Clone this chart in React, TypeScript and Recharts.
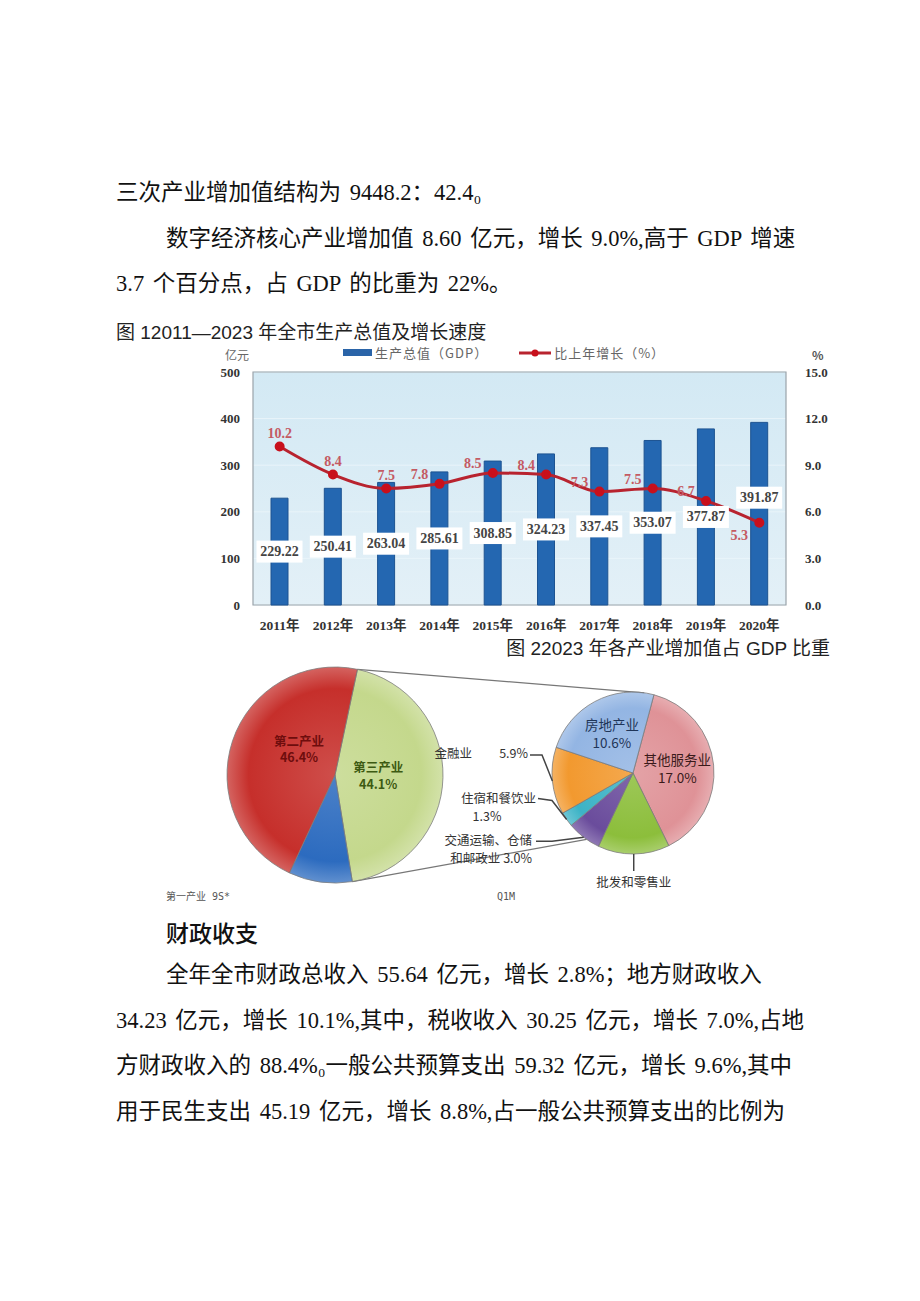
import React from 'react'
import {
  ComposedChart,
  Bar,
  Line,
  XAxis,
  YAxis,
  CartesianGrid,
  LabelList,
  ReferenceArea,
  PieChart,
  Pie,
  Cell,
  Customized
} from 'recharts'

// 图1 数据
const years = ['2011年', '2012年', '2013年', '2014年', '2015年', '2016年', '2017年', '2018年', '2019年', '2020年']
const gdpValues = [229.22, 250.41, 263.04, 285.61, 308.85, 324.23, 337.45, 353.07, 377.87, 391.87]
const growthRates = [10.2, 8.4, 7.5, 7.8, 8.5, 8.4, 7.3, 7.5, 6.7, 5.3]
const gdpTicks = [0, 100, 200, 300, 400, 500]
const rateTicks = [0, 3, 6, 9, 12, 15]

// 图2 数据
const industryNames = ['第三产业', '第一产业', '第二产业']
const industryShares = [44.1, 9.5, 46.4]
const serviceNames = ['其他服务业', '批发和零售业', '交通运输、仓储和邮政业', '住宿和餐饮业', '金融业', '房地产业']
const serviceShares = [17.0, 6.3, 3.0, 1.3, 5.9, 10.6]

const industryColors = ['#c4d88c', '#2c6bbf', '#c62f2b']
const serviceColors = ['#df9297', '#8cbe3b', '#6a4c9c', '#3cb3c6', '#f2992f', '#93b5e3']

const SERIF = "'Liberation Serif', 'Noto Sans CJK SC', serif"
const SANS = "'Liberation Sans', 'Noto Sans CJK SC', sans-serif"
const CJK = "'Noto Sans CJK SC', sans-serif"

const barData = years.map((y, i) => ({ year: y, gdp: gdpValues[i], rate: growthRates[i] }))
const industryData = industryNames.map((n, i) => ({ name: n, value: industryShares[i] }))
const serviceData = serviceNames.map((n, i) => ({ name: n, value: serviceShares[i] }))

// 饼图几何
const MAIN = { cx: 125, cy: 115, r: 108, start: 78 }
const SUB = { cx: 423, cy: 113, r: 81, start: 75 }
const RAD = Math.PI / 180

function Txt({ x, y, size, lh, children, style }: any) {
  return (
    <div
      style={{
        position: 'absolute',
        left: x,
        top: y - lh / 2,
        fontSize: size,
        lineHeight: lh + 'px',
        whiteSpace: 'nowrap',
        color: '#111',
        fontFamily: SERIF,
        wordSpacing: 3,
        ...style
      }}
    >
      {children}
    </div>
  )
}

function BarValueLabel(props: any) {
  const { x, y, width, height, value, index } = props
  const cx = x + width / 2
  // 最后一根柱子的标签上移，避开折线
  const cy = y + height / 2 - (index === gdpValues.length - 1 ? 16 : 0)
  return (
    <g>
      <rect x={cx - 23} y={cy - 11} width={46} height={22} fill='#fff' />
      <text
        x={cx}
        y={cy}
        textAnchor='middle'
        dominantBaseline='central'
        fontSize={14}
        fontWeight={700}
        fill='#444'
        fontFamily={SERIF}
      >
        {Number(value).toFixed(2)}
      </text>
    </g>
  )
}

function RateLabel(props: any) {
  const { x, y, value, index } = props
  let dx = -20
  let dy = -9
  if (index < 3) {
    dx = 0
    dy = -13
  }
  if (index === growthRates.length - 1) dy = 13
  return (
    <text
      x={x + dx}
      y={y + dy}
      textAnchor='middle'
      dominantBaseline='central'
      fontSize={14}
      fontWeight={700}
      fill='#c45a63'
      fontFamily={SERIF}
    >
      {Number(value).toFixed(1)}
    </text>
  )
}

function GdpLegend() {
  return (
    <div
      style={{
        position: 'absolute',
        left: 143,
        top: 3,
        display: 'flex',
        alignItems: 'center',
        fontFamily: CJK,
        fontSize: 13,
        color: '#666',
        letterSpacing: 1,
        zIndex: 2
      }}
    >
      <span style={{ display: 'inline-block', width: 29, height: 7, background: '#2a64a8', marginRight: 3 }} />
      <span style={{ marginRight: 31 }}>生产总值（GDP）</span>
      <svg width={34} height={10} style={{ marginRight: 1 }}>
        <line x1={0} y1={5} x2={32} y2={5} stroke='#b8232f' strokeWidth={3} />
        <circle cx={16} cy={5} r={3.5} fill='#c8101c' />
      </svg>
      <span>比上年增长（%）</span>
    </div>
  )
}

function MainLabel(p: any) {
  const { cx, cy, midAngle, outerRadius, name, value } = p
  if (name === '第一产业') return null
  const r = outerRadius * 0.4
  const x = cx + r * Math.cos(-midAngle * RAD) + (name === '第二产业' ? 5 : 0)
  const y = cy + r * Math.sin(-midAngle * RAD) - (name === '第二产业' ? 12 : 0)
  const color = name === '第二产业' ? '#6e0d0d' : '#3d5a12'
  return (
    <text x={x} y={y} textAnchor='middle' fontSize={12.5} fontWeight={700} fill={color} fontFamily={CJK}>
      <tspan x={x} dy='-0.3em'>{name}</tspan>
      <tspan x={x} dy='1.35em'>{Number(value).toFixed(1)}%</tspan>
    </text>
  )
}

function ServiceLabel(p: any) {
  const { cx, cy, midAngle, outerRadius, name, value } = p
  const a = -midAngle * RAD
  const ex = cx + outerRadius * Math.cos(a)
  const ey = cy + outerRadius * Math.sin(a)
  const pct = Number(value).toFixed(1) + '%'
  const font = { fontSize: 12.5, fill: '#333', fontFamily: CJK }
  const lead = { stroke: '#444', strokeWidth: 1.5, fill: 'none' }
  if (name === '房地产业' || name === '其他服务业') {
    const r = outerRadius * 0.55
    const x = cx + r * Math.cos(a)
    const y = cy + r * Math.sin(a)
    return (
      <text x={x} y={y} textAnchor='middle' {...font} fontSize={13.5} fill={name === '房地产业' ? '#1f3558' : '#3a1a1a'}>
        <tspan x={x} dy='-0.3em'>{name}</tspan>
        <tspan x={x} dy='1.35em'>{pct}</tspan>
      </text>
    )
  }
  const lx = cx - outerRadius - 18
  if (name === '批发和零售业') {
    const by = cy + outerRadius + 17
    return (
      <g>
        <path d={`M${ex},${ey}L${ex},${by}`} {...lead} />
        <text x={ex} y={by + 10} textAnchor='middle' dominantBaseline='central' {...font}>{name}</text>
      </g>
    )
  }
  if (name === '金融业') {
    const ty = ey - 28
    return (
      <g>
        <path d={`M${lx - 4},${ty + 2}L${lx + 8},${ty + 2}L${ex},${ey}`} {...lead} />
        <text x={lx - 6} y={ty} textAnchor='end' dominantBaseline='central' {...font}>{pct}</text>
        <text x={lx - 62} y={ty} textAnchor='end' dominantBaseline='central' {...font}>{name}</text>
      </g>
    )
  }
  if (name === '住宿和餐饮业') {
    const ty = ey - 22
    return (
      <g>
        <path d={`M${lx + 4},${ty + 1}L${lx + 18},${ty + 3}L${ex},${ey}`} {...lead} />
        <text x={lx + 2} y={ty} textAnchor='end' dominantBaseline='central' {...font}>{name}</text>
        <text x={lx - 47} y={ty + 18} textAnchor='middle' dominantBaseline='central' {...font}>{pct}</text>
      </g>
    )
  }
  const ty = ey + 2
  return (
    <g>
      <path d={`M${lx + 2},${ty + 2}L${lx + 18},${ty + 2}L${ex},${ey}`} {...lead} />
      <text x={lx - 2} y={ty} textAnchor='end' dominantBaseline='central' {...font}>{name.slice(0, 7)}</text>
      <text x={lx - 2} y={ty + 18} textAnchor='end' dominantBaseline='central' {...font}>
        {name.slice(7) + ' ' + pct}
      </text>
    </g>
  )
}

// 主饼与子饼之间的连线
function ConnectorLines() {
  const total = industryShares.reduce((s, v) => s + v, 0)
  const a1 = MAIN.start * RAD
  const a2 = (MAIN.start - (industryShares[0] / total) * 360) * RAD
  const p1 = { x: MAIN.cx + MAIN.r * Math.cos(a1), y: MAIN.cy - MAIN.r * Math.sin(a1) }
  const p2 = { x: MAIN.cx + MAIN.r * Math.cos(a2), y: MAIN.cy - MAIN.r * Math.sin(a2) }
  const b1 = 82 * RAD
  const b2 = -125 * RAD
  const q1 = { x: SUB.cx + SUB.r * Math.cos(b1), y: SUB.cy - SUB.r * Math.sin(b1) }
  const q2 = { x: SUB.cx + SUB.r * Math.cos(b2), y: SUB.cy - SUB.r * Math.sin(b2) }
  return (
    <g>
      <line x1={p1.x} y1={p1.y} x2={q1.x} y2={q1.y} stroke='#777' strokeWidth={1.2} />
      <line x1={p2.x} y1={p2.y} x2={q2.x} y2={q2.y} stroke='#777' strokeWidth={1.2} />
    </g>
  )
}

function shade(id: string, color: string, c: { cx: number; cy: number; r: number }) {
  return (
    <radialGradient key={id} id={id} gradientUnits='userSpaceOnUse' cx={c.cx} cy={c.cy} r={c.r}>
      <stop offset='0%' stopColor={color} stopOpacity={0.85} />
      <stop offset='80%' stopColor={color} />
      <stop offset='100%' stopColor={color} stopOpacity={0.75} />
    </radialGradient>
  )
}

export default function App() {
  return (
    <div style={{ position: 'absolute', left: 0, top: 0, width: 920, height: 1301, background: '#fff', overflow: 'hidden' }}>
      <Txt x={116} y={193} size={22.5} lh={30}>三次产业增加值结构为 9448.2：42.4₀</Txt>
      <Txt x={166} y={239} size={22.5} lh={30}>数字经济核心产业增加值 8.60 亿元，增长 9.0%,高于 GDP 增速</Txt>
      <Txt x={116} y={284} size={22.5} lh={30}>3.7 个百分点，占 GDP 的比重为 22%。</Txt>
      <Txt x={116} y={333} size={19} lh={24} style={{ fontFamily: SANS, color: '#222', wordSpacing: 0 }}>
        图 12011—2023 年全市生产总值及增长速度
      </Txt>

      <div style={{ position: 'absolute', left: 200, top: 340 }}>
        <div style={{ position: 'absolute', left: 25, top: 6, fontFamily: CJK, fontSize: 12, color: '#666', zIndex: 2 }}>亿元</div>
        <div style={{ position: 'absolute', left: 612, top: 6, fontFamily: CJK, fontSize: 12, fontWeight: 700, color: '#555', zIndex: 2 }}>%</div>
        <GdpLegend />
        <ComposedChart width={640} height={300} data={barData} margin={{ top: 32, right: 0, bottom: 0, left: 0 }}>
          <defs>
            <linearGradient id='plotBg' x1='0' y1='0' x2='0' y2='1'>
              <stop offset='0%' stopColor='#d3e9f4' />
              <stop offset='100%' stopColor='#e3f0f7' />
            </linearGradient>
          </defs>
          <CartesianGrid yAxisId='left' vertical={false} stroke='#e9f4fa' fill='url(#plotBg)' fillOpacity={1} />
          <XAxis
            dataKey='year'
            height={35}
            axisLine={false}
            tickLine={false}
            tickMargin={9}
            interval={0}
            tick={{ fontSize: 13.5, fontWeight: 700, fill: '#333', fontFamily: SERIF }}
          />
          <YAxis
            yAxisId='left'
            width={53}
            domain={[0, 500]}
            ticks={gdpTicks}
            axisLine={false}
            tickLine={false}
            tickMargin={7}
            tick={{ fontSize: 13, fontWeight: 700, fill: '#333', fontFamily: SERIF }}
          />
          <YAxis
            yAxisId='right'
            orientation='right'
            width={54}
            domain={[0, 15]}
            ticks={rateTicks}
            axisLine={false}
            tickLine={false}
            tickMargin={13}
            tickFormatter={(v: number) => v.toFixed(1)}
            tick={{ fontSize: 13, fontWeight: 700, fill: '#333', fontFamily: SERIF, textAnchor: 'start' }}
          />
          <ReferenceArea yAxisId='left' y1={0} y2={500} fill='none' stroke='#9aa3aa' strokeWidth={1.2} />
          <Bar yAxisId='left' dataKey='gdp' barSize={17} fill='#2467b1' stroke='#1d5391' isAnimationActive={false}>
            <LabelList dataKey='gdp' content={BarValueLabel} />
          </Bar>
          <Line
            yAxisId='right'
            type='monotone'
            dataKey='rate'
            stroke='#b8232f'
            strokeWidth={3}
            dot={{ r: 3.5, fill: '#c8101c', stroke: '#c8101c' }}
            isAnimationActive={false}
          >
            <LabelList dataKey='rate' content={RateLabel} />
          </Line>
        </ComposedChart>
      </div>

      <Txt x={0} y={649} size={19} lh={24} style={{ fontFamily: SANS, color: '#222', left: 'auto', right: 90, wordSpacing: 0 }}>
        图 22023 年各产业增加值占 GDP 比重
      </Txt>

      <div style={{ position: 'absolute', left: 210, top: 660 }}>
        <PieChart width={520} height={240} margin={{ top: 0, right: 0, bottom: 0, left: 0 }}>
          <defs>
            {industryColors.map((c, i) => shade('ind' + i, c, MAIN))}
            {serviceColors.map((c, i) => shade('svc' + i, c, SUB))}
          </defs>
          <Customized component={ConnectorLines} />
          <Pie
            data={industryData}
            dataKey='value'
            nameKey='name'
            cx={MAIN.cx}
            cy={MAIN.cy}
            outerRadius={MAIN.r}
            startAngle={MAIN.start}
            endAngle={MAIN.start - 360}
            stroke='#7c7c7c'
            strokeWidth={0.8}
            label={MainLabel}
            labelLine={false}
            isAnimationActive={false}
          >
            {industryData.map((d, i) => (
              <Cell key={d.name} fill={`url(#ind${i})`} />
            ))}
          </Pie>
          <Pie
            data={serviceData}
            dataKey='value'
            nameKey='name'
            cx={SUB.cx}
            cy={SUB.cy}
            outerRadius={SUB.r}
            startAngle={SUB.start}
            endAngle={SUB.start - 360}
            stroke='#7c7c7c'
            strokeWidth={0.8}
            label={ServiceLabel}
            labelLine={false}
            isAnimationActive={false}
          >
            {serviceData.map((d, i) => (
              <Cell key={d.name} fill={`url(#svc${i})`} />
            ))}
          </Pie>
        </PieChart>
      </div>

      <Txt x={166} y={897} size={10} lh={14} style={{ fontFamily: "'DejaVu Sans Mono', 'Noto Sans CJK SC', monospace", color: '#555', wordSpacing: 0 }}>
        第一产业 9S*
      </Txt>
      <Txt x={497} y={897} size={10} lh={14} style={{ fontFamily: "'DejaVu Sans Mono', monospace", color: '#555', wordSpacing: 0 }}>
        Q1M
      </Txt>

      <Txt x={166} y={932} size={23} lh={30} style={{ fontFamily: CJK, fontWeight: 500 }}>财政收支</Txt>
      <Txt x={166} y={975} size={22.5} lh={30}>全年全市财政总收入 55.64 亿元，增长 2.8%；地方财政收入</Txt>
      <Txt x={116} y={1021} size={22.5} lh={30}>34.23 亿元，增长 10.1%,其中，税收收入 30.25 亿元，增长 7.0%,占地</Txt>
      <Txt x={116} y={1066} size={22.5} lh={30}>方财政收入的 88.4%₀一般公共预算支出 59.32 亿元，增长 9.6%,其中</Txt>
      <Txt x={116} y={1112} size={22.5} lh={30}>用于民生支出 45.19 亿元，增长 8.8%,占一般公共预算支出的比例为</Txt>
    </div>
  )
}
